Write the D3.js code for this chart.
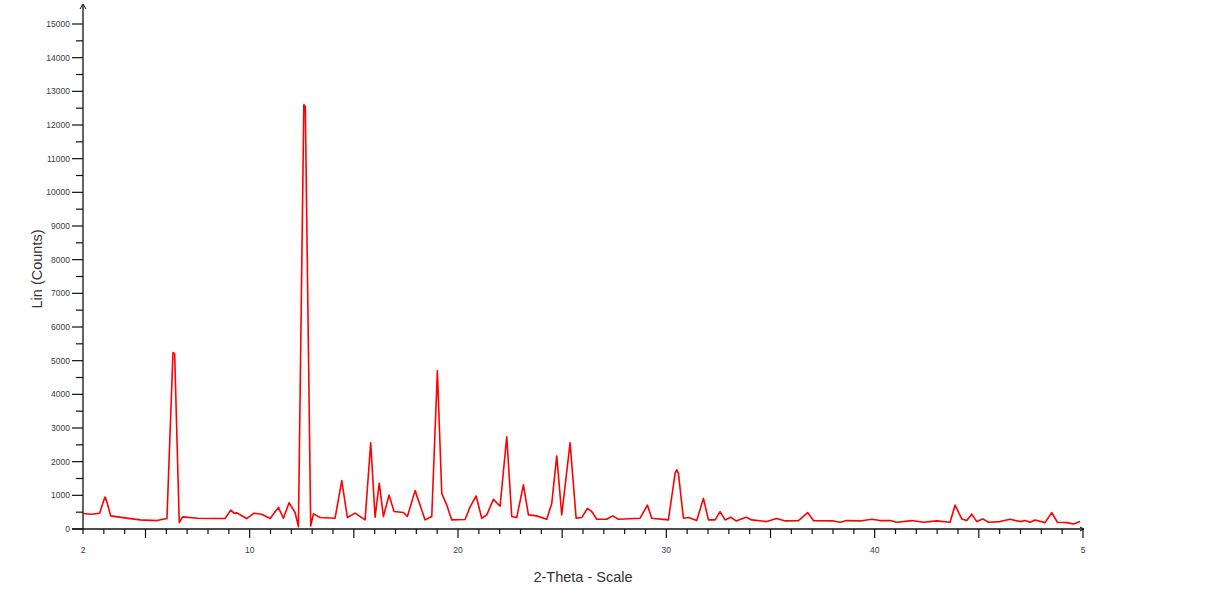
<!DOCTYPE html>
<html>
<head>
<meta charset="utf-8">
<script src="https://cdn.jsdelivr.net/npm/d3@7"></script>
<style>
  html, body { margin: 0; padding: 0; background: #fff; }
  svg { display: block; }
  text { font-family: "Liberation Sans", Arial, sans-serif; }
</style>
</head>
<body>
<svg id="chart" width="1226" height="589"></svg>
<script>
// ---- Data ----
const twoTheta = [
  2.00, 2.40, 2.80, 2.98, 3.06, 3.14, 3.33, 4.00, 4.74, 5.54, 6.03, 6.32, 6.40, 6.62, 6.78,
  7.50, 8.30, 8.82, 9.09, 9.25, 9.38, 9.60, 9.86, 10.21, 10.58, 10.98, 11.38,
  11.62, 11.89, 12.18, 12.34, 12.60, 12.67, 12.93, 13.06, 13.38, 14.10, 14.42,
  14.69, 15.06, 15.54, 15.81, 16.02, 16.22, 16.42, 16.69, 16.93, 17.38, 17.57,
  17.94, 18.42, 18.74, 19.01, 19.22, 19.46, 19.70, 20.34, 20.58, 20.87, 21.14,
  21.38, 21.70, 22.02, 22.34, 22.58, 22.82, 23.14, 23.38, 23.78, 24.26, 24.50,
  24.74, 24.98, 25.38, 25.67, 25.94, 26.21, 26.42, 26.66, 27.14, 27.43, 27.70,
  28.74, 29.09, 29.30, 30.10, 30.42, 30.50, 30.58, 30.82, 31.06, 31.46, 31.78, 32.02, 32.34,
  32.58, 32.82, 33.09, 33.35, 33.83, 34.10, 34.82, 35.30, 35.70, 36.34, 36.79,
  37.06, 38.02, 38.34, 38.66, 39.30, 39.86, 40.26, 40.74, 41.06, 41.78, 42.34,
  42.98, 43.62, 43.86, 44.18, 44.42, 44.66, 44.90, 45.19, 45.46, 46.02, 46.50,
  46.98, 47.22, 47.46, 47.70, 48.18, 48.50, 48.77, 49.22, 49.54, 49.86
];
const counts = [
  460, 440, 470, 820, 950, 820, 390, 330, 270, 250, 310, 5240, 5200, 190, 360,
  320, 310, 310, 560, 470, 480, 400, 310, 470, 440, 310, 640,
  320, 780, 490, 70, 12600, 12550, 90, 450, 340, 320, 1440,
  340, 470, 270, 2560, 350, 1360, 370, 1010, 520, 490, 370,
  1140, 270, 370, 4700, 1060, 710, 270, 280, 660, 980, 320,
  420, 880, 680, 2740, 370, 340, 1310, 420, 390, 290, 760,
  2170, 420, 2560, 320, 340, 610, 520, 290, 290, 390, 290,
  320, 710, 320, 270, 1650, 1760, 1650, 320, 340, 250, 910, 270, 270,
  515, 270, 350, 240, 350, 270, 220, 310, 240, 250, 485,
  250, 240, 200, 250, 240, 290, 250, 250, 200, 250, 200,
  240, 200, 710, 300, 250, 440, 220, 300, 200, 220, 290,
  220, 250, 200, 270, 190, 485, 200, 190, 150, 220
];
const xTickLabels = [
  { v: 2, t: "2" }, { v: 10, t: "10" }, { v: 20, t: "20" },
  { v: 30, t: "30" }, { v: 40, t: "40" }, { v: 50, t: "5" }
];
const yTickValues = [0, 1000, 2000, 3000, 4000, 5000, 6000, 7000, 8000, 9000, 10000, 11000, 12000, 13000, 14000, 15000];
const xTitle = "2-Theta - Scale";
const yTitle = "Lin (Counts)";

// ---- Layout ----
const svg = d3.select("#chart");
const x = d3.scaleLinear().domain([2, 50]).range([83, 1083]);
const y = d3.scaleLinear().domain([0, 15000]).range([529, 24]);
const axisColor = "#111";
const labelColor = "#3a3a4a";

// Y axis line (extends beyond 15000 with small arrow)
svg.append("line").attr("x1", 83).attr("x2", 83).attr("y1", 529).attr("y2", 5)
  .attr("stroke", axisColor).attr("stroke-width", 1.3);
svg.append("path").attr("d", "M80,9 L83,4 L86,9").attr("fill", "none")
  .attr("stroke", axisColor).attr("stroke-width", 1);

// X axis line with small arrow at end
svg.append("line").attr("x1", 72).attr("x2", 1084).attr("y1", 529).attr("y2", 529)
  .attr("stroke", axisColor).attr("stroke-width", 1.3);
svg.append("path").attr("d", "M1080,527 L1084,529 L1080,531").attr("fill", "none")
  .attr("stroke", axisColor).attr("stroke-width", 1);

// Y ticks: major every 1000, minor every 500
const yMinor = d3.range(500, 15500, 1000);
svg.append("g").selectAll("line.ymin").data(yMinor).join("line")
  .attr("x1", 76).attr("x2", 83).attr("y1", d => y(d)).attr("y2", d => y(d))
  .attr("stroke", axisColor).attr("stroke-width", 1.2);
svg.append("g").selectAll("line.ymaj").data(yTickValues).join("line")
  .attr("x1", 72).attr("x2", 83).attr("y1", d => y(d)).attr("y2", d => y(d))
  .attr("stroke", axisColor).attr("stroke-width", 1.2);
svg.append("g").selectAll("text").data(yTickValues).join("text")
  .attr("x", 70).attr("y", d => y(d)).attr("dy", "0.35em")
  .attr("text-anchor", "end").attr("font-size", 8.5).attr("fill", labelColor)
  .text(d => String(d));

// X ticks: minor every 1, major every 5
const xTicks = d3.range(2, 51, 1);
svg.append("g").selectAll("line").data(xTicks).join("line")
  .attr("x1", d => x(d)).attr("x2", d => x(d))
  .attr("y1", 529).attr("y2", d => (d % 5 === 0 ? 538 : 534))
  .attr("stroke", axisColor).attr("stroke-width", 1.2);
svg.append("g").selectAll("text").data(xTickLabels).join("text")
  .attr("x", d => x(d.v)).attr("y", 553)
  .attr("text-anchor", "middle").attr("font-size", 8.5).attr("fill", labelColor)
  .text(d => d.t);

// Titles
svg.append("text").attr("x", 583).attr("y", 582).attr("text-anchor", "middle")
  .attr("font-size", 14.5).attr("fill", "#333").text(xTitle);
svg.append("text").attr("transform", "translate(42,269) rotate(-90)")
  .attr("text-anchor", "middle").attr("font-size", 14.5).attr("fill", "#333").text(yTitle);

// Data line
const pts = twoTheta.map((t, i) => [t, counts[i]]);
const line = d3.line().x(d => x(d[0])).y(d => y(d[1])).curve(d3.curveLinear);
svg.append("path").datum(pts).attr("d", line)
  .attr("fill", "none").attr("stroke", "#ff0000").attr("stroke-width", 1.6)
  .attr("stroke-linejoin", "round");
</script>
</body>
</html>
